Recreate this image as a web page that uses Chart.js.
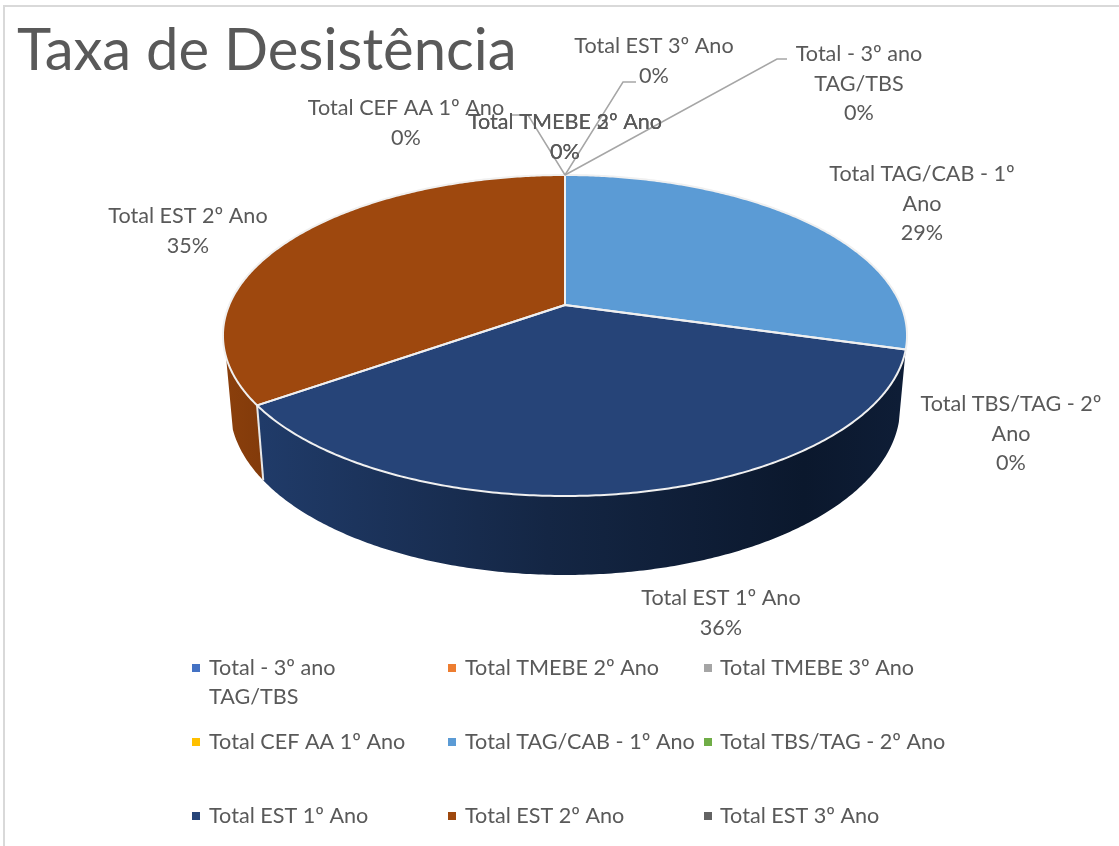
<!DOCTYPE html>
<html lang="pt">
<head>
<meta charset="utf-8">
<title>Taxa de Desistência</title>
<script src="https://cdn.jsdelivr.net/npm/chart.js@4"></script>
<style>
    html, body { margin: 0; padding: 0; background: #fff; }
    canvas { display: block; }
</style>
</head>
<body>
<canvas id="pieChart" width="1119" height="846"></canvas>
<script>
const chartTitle = 'Taxa de Desistência';
const categories = [
    'Total - 3º ano TAG/TBS',
    'Total TMEBE 2º Ano',
    'Total TMEBE 3º Ano',
    'Total CEF AA 1º Ano',
    'Total TAG/CAB - 1º Ano',
    'Total TBS/TAG - 2º Ano',
    'Total EST 1º Ano',
    'Total EST 2º Ano',
    'Total EST 3º Ano'
];
const values = [0, 0, 0, 0, 29.4, 0, 35.8, 34.8, 0];
const sliceColors = ['#4472c4', '#ed7d31', '#a5a5a5', '#ffc000', '#5b9bd5', '#70ad47', '#264478', '#9e480e', '#636363'];

const textColor = '#595959';
const labelFont = '21.6px Lato';

// Tilted disc: hub sits above the centre of the ellipse, like the perspective pie in the original
const CX = 565;
const TILT = -0.19;
const RADIUS_X = 335.8;
const RADIUS_Y = 96.75;
const HUB_Y = 305;
const FRONT_ANGLE_MIN = 0.2;
const FRONT_ANGLE_MAX = 2.82;

function topPoint(angle) {
    const u = Math.cos(angle), v = Math.sin(angle);
    const w = 1 + TILT * v;
    return { x: CX + RADIUS_X * u / w, y: (RADIUS_Y * v + HUB_Y) / w };
}

function bottomPoint(angle) {
    const p = topPoint(angle);
    return { x: CX + (p.x - CX) * 0.98, y: p.y + 69.6 + 9.4 * Math.sin(angle) };
}

function rimPath(ctx, start, end, pointFn, first) {
    const steps = Math.max(2, Math.ceil(Math.abs(end - start) / 0.01));
    for (let i = 0; i <= steps; i++) {
        const p = pointFn(start + (end - start) * i / steps);
        if (i === 0 && first) ctx.moveTo(p.x, p.y);
        else ctx.lineTo(p.x, p.y);
    }
}

const wallFill = {
    '#264478': ctx => {
        const g = ctx.createLinearGradient(260, 0, 900, 0);
        g.addColorStop(0, '#203b69');
        g.addColorStop(0.45, '#142644');
        g.addColorStop(0.85, '#0b182d');
        g.addColorStop(1, '#0e1d36');
        return g;
    },
    '#9e480e': ctx => {
        const g = ctx.createLinearGradient(225, 0, 265, 0);
        g.addColorStop(0, '#8a3f0c');
        g.addColorStop(1, '#823a0a');
        return g;
    }
};

// Draws the pie from the angles Chart.js worked out for each arc
const tiltedPie = {
    id: 'tiltedPie',
    beforeDatasetDraw(chart, args) {
        const ctx = chart.ctx;
        const arcs = args.meta.data;
        const visible = arcs.filter(arc => arc.endAngle - arc.startAngle > 0.0001);
        ctx.save();

        visible.forEach(arc => {
            const start = Math.max(arc.startAngle, FRONT_ANGLE_MIN);
            const end = Math.min(arc.endAngle, FRONT_ANGLE_MAX);
            if (end <= start) return;
            const makeFill = wallFill[arc.options.backgroundColor];
            if (!makeFill) return;
            ctx.beginPath();
            rimPath(ctx, start, end, topPoint, true);
            rimPath(ctx, end, start, bottomPoint, false);
            ctx.closePath();
            ctx.fillStyle = makeFill(ctx);
            ctx.fill();
        });

        // seam on the wall where the two front slices meet
        visible.forEach(arc => {
            if (arc.startAngle <= 0.5 || arc.startAngle >= FRONT_ANGLE_MAX) return;
            const a = topPoint(arc.startAngle), b = bottomPoint(arc.startAngle);
            ctx.beginPath();
            ctx.moveTo(a.x, a.y);
            ctx.lineTo(b.x, b.y);
            ctx.strokeStyle = '#e8e8e8';
            ctx.lineWidth = 2;
            ctx.stroke();
        });

        visible.forEach(arc => {
            ctx.beginPath();
            ctx.moveTo(CX, HUB_Y);
            rimPath(ctx, arc.startAngle, arc.endAngle, topPoint, false);
            ctx.closePath();
            ctx.fillStyle = arc.options.backgroundColor;
            ctx.fill();
        });
        visible.forEach(arc => {
            ctx.beginPath();
            ctx.moveTo(CX, HUB_Y);
            rimPath(ctx, arc.startAngle, arc.endAngle, topPoint, false);
            ctx.closePath();
            ctx.strokeStyle = '#f0f0f0';
            ctx.lineWidth = 2;
            ctx.lineJoin = 'round';
            ctx.stroke();
        });

        ctx.restore();
        return false;
    }
};

function percentOf(index) {
    const total = values.reduce((sum, v) => sum + v, 0);
    return Math.round(values[index] / total * 100) + '%';
}

// category index, centre x, first line y, wrapped name lines
const dataLabels = [
    [8, 654, 46, ['Total EST 3º Ano']],
    [0, 859, 54, ['Total - 3º ano', 'TAG/TBS']],
    [3, 406, 108, ['Total CEF AA 1º Ano']],
    [1, 565, 122, ['Total TMEBE 2º Ano']],
    [2, 565, 122, ['Total TMEBE 3º Ano']],
    [4, 922, 174, ['Total TAG/CAB - 1º', 'Ano']],
    [5, 1011, 404, ['Total TBS/TAG - 2º', 'Ano']],
    [6, 721, 598, ['Total EST 1º Ano']],
    [7, 188, 216, ['Total EST 2º Ano']]
];

const leaderLines = [
    [[565, 175], [528, 115], [510, 115]],
    [[565, 175], [623, 82], [636, 82]],
    [[565, 175], [777, 59], [787, 59]]
];

// category index, box x, text x, row y, wrapped lines
const legendCells = [
    [0, 192, 209, 668, ['Total - 3º ano', 'TAG/TBS']],
    [1, 448, 465, 668, ['Total TMEBE 2º Ano']],
    [2, 704, 720, 668, ['Total TMEBE 3º Ano']],
    [3, 192, 209, 742, ['Total CEF AA 1º Ano']],
    [4, 448, 465, 742, ['Total TAG/CAB - 1º Ano']],
    [5, 704, 720, 742, ['Total TBS/TAG - 2º Ano']],
    [6, 192, 209, 816, ['Total EST 1º Ano']],
    [7, 448, 465, 816, ['Total EST 2º Ano']],
    [8, 704, 720, 816, ['Total EST 3º Ano']]
];

const annotations = {
    id: 'annotations',
    afterDraw(chart) {
        const ctx = chart.ctx;
        ctx.save();

        // frame of the pasted chart
        ctx.strokeStyle = '#d9d9d9';
        ctx.lineWidth = 2;
        ctx.beginPath();
        ctx.moveTo(4, 846);
        ctx.lineTo(4, 6);
        ctx.lineTo(1119, 6);
        ctx.stroke();

        ctx.strokeStyle = '#a6a6a6';
        ctx.lineWidth = 1.5;
        leaderLines.forEach(line => {
            ctx.beginPath();
            line.forEach(([x, y], i) => i ? ctx.lineTo(x, y) : ctx.moveTo(x, y));
            ctx.stroke();
        });

        ctx.font = labelFont;
        ctx.fillStyle = textColor;
        ctx.textBaseline = 'middle';
        ctx.textAlign = 'center';
        dataLabels.forEach(([index, x, y, lines]) => {
            lines.concat(percentOf(index)).forEach((text, i) => ctx.fillText(text, x, y + i * 29.7));
        });

        ctx.textAlign = 'left';
        legendCells.forEach(([index, boxX, textX, y, lines]) => {
            ctx.fillStyle = sliceColors[index];
            ctx.fillRect(boxX, y - 4, 8, 8);
            ctx.fillStyle = textColor;
            lines.forEach((text, i) => ctx.fillText(text, textX, y + i * 29.5));
        });

        ctx.restore();
    }
};

new Chart(document.getElementById('pieChart').getContext('2d'), {
    type: 'pie',
    data: {
        labels: categories,
        datasets: [{
            data: values,
            backgroundColor: sliceColors
        }]
    },
    options: {
        responsive: false,
        animation: false,
        layout: {
            padding: { left: 17, top: 16 }
        },
        plugins: {
            legend: { display: false },
            tooltip: { enabled: false },
            title: {
                display: true,
                text: chartTitle,
                align: 'start',
                color: textColor,
                font: { family: 'Lato', size: 58, weight: 'normal' },
                padding: 0
            }
        }
    },
    plugins: [tiltedPie, annotations]
});
</script>
</body>
</html>
